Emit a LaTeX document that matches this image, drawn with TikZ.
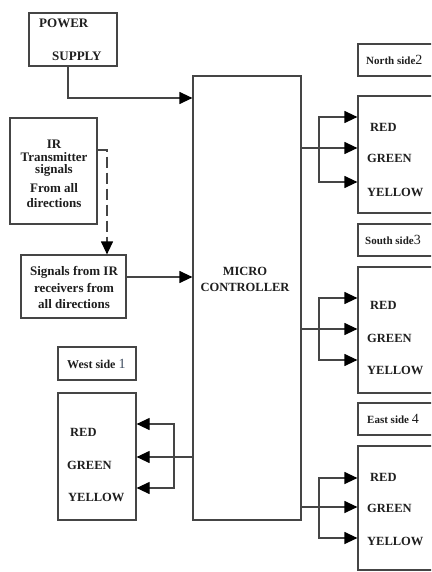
\documentclass[tikz,border=0pt]{standalone}
\usepackage{fontspec}
\setmainfont{Liberation Serif}
\usetikzlibrary{arrows.meta}
\definecolor{ln}{HTML}{454545}
\definecolor{tx}{HTML}{1E1E1E}
\definecolor{one}{HTML}{3C4A5E}
\tikzset{
  blk/.style={draw=ln,line width=1.2pt,fill=white,inner sep=0pt},
  lbl/.style={inner sep=0pt,text=tx,font=\bfseries\fontsize{12.5}{14}\selectfont},
  lblw/.style={lbl,anchor=west},
  sidelbl/.style={inner sep=0pt,anchor=west,text=tx,font=\bfseries\fontsize{11}{12}\selectfont},
  conn/.style={draw=ln,line width=1.2pt},
  arr/.style={conn,-{Triangle[length=13pt,width=12pt,color=black]}},
  darr/.style={arr,dash pattern=on 11pt off 5pt}
}
\newcommand{\dg}[1]{{\mdseries\fontsize{14}{14}\selectfont #1}}
\begin{document}
\begin{tikzpicture}[x=1pt,y=-1pt]
\useasboundingbox (0,0) rectangle (431,572);
\fill[white] (0,0) rectangle (431,572);
\begin{scope}
\clip (0,0) rectangle (431,572);
% boxes
\node[blk,minimum width=88pt,minimum height=53pt] (ps) at (73,39.5) {};
\node[blk,minimum width=87pt,minimum height=106pt] (ir) at (53.5,171) {};
\node[blk,minimum width=105pt,minimum height=63pt] (sig) at (73.5,286.5) {};
\node[blk,minimum width=108pt,minimum height=444pt] (mc) at (247,298) {};
\node[blk,minimum width=78pt,minimum height=33pt] (wl) at (97,363.5) {};
\node[blk,minimum width=78pt,minimum height=127pt] (wb) at (97,456.5) {};
\node[blk,minimum width=90pt,minimum height=32pt] (nl) at (403,60) {};
\node[blk,minimum width=90pt,minimum height=117pt] (nb) at (403,154.5) {};
\node[blk,minimum width=90pt,minimum height=32pt] (sl) at (403,240) {};
\node[blk,minimum width=90pt,minimum height=126pt] (sb) at (403,330) {};
\node[blk,minimum width=90pt,minimum height=32pt] (el) at (403,419) {};
\node[blk,minimum width=90pt,minimum height=124pt] (eb) at (403,508) {};
\end{scope}
% texts
\node[lblw,font=\bfseries\fontsize{13}{14}\selectfont] (t1) at (39,23) {POWER};
\node[lblw,font=\bfseries\fontsize{13}{14}\selectfont] (t2) at (52,56) {SUPPLY};
\begin{scope}[every node/.style={lbl,font=\bfseries\fontsize{13}{14}\selectfont}]
\node (i1) at (54,144) {IR};
\node (i2) at (54,157) {Transmitter};
\node (i3) at (54,170) {signals};
\node (i4) at (54,188) {From all};
\node (i5) at (54,203) {directions};
\node (s1) at (74,272) {Signals from IR};
\node (s2) at (74,288) {receivers from};
\node (s3) at (74,304) {all directions};
\end{scope}
\node[lbl] (m1) at (245,271) {MICRO};
\node[lbl] (m2) at (245,287) {CONTROLLER};
\node[sidelbl,font=\bfseries\fontsize{12}{12}\selectfont] (wt) at (67,364) {West side \textcolor{one}{\dg{1}}};
\node[sidelbl] (nt) at (366,60) {North side\dg{2}};
\node[sidelbl] (st) at (365,240) {South side\dg{3}};
\node[sidelbl] (et) at (367,419) {East side \dg{4}};
% lights
\node[lblw] (wr) at (70,432) {RED};
\node[lblw] (wg) at (67,465) {GREEN};
\node[lblw] (wy) at (68,497) {YELLOW};
\node[lblw] (nr) at (370,127) {RED};
\node[lblw] (ng) at (367,158) {GREEN};
\node[lblw] (ny) at (367,192) {YELLOW};
\node[lblw] (sr) at (370,305) {RED};
\node[lblw] (sg) at (367,338) {GREEN};
\node[lblw] (sy) at (367,370) {YELLOW};
\node[lblw] (er) at (370,477) {RED};
\node[lblw] (eg) at (367,508) {GREEN};
\node[lblw] (ey) at (367,541) {YELLOW};
% connectors
\draw[arr] (ps.south -| 68,0) |- (mc.west |- 0,98);
\draw[darr] (ir.east |- 0,150) -| (sig.north -| 107,0);
\draw[arr] (sig.east |- 0,277) -- (mc.west |- 0,277);
\coordinate (wj) at (174,457);
\draw[arr] (mc.west |- wj) -- (wb.east |- wj);
\draw[arr] (wj) |- (wb.east |- 0,424);
\draw[arr] (wj) |- (wb.east |- 0,488);
\coordinate (nj) at (319,148);
\draw[arr] (mc.east |- nj) -- (nb.west |- nj);
\draw[arr] (nj) |- (nb.west |- 0,117);
\draw[arr] (nj) |- (nb.west |- 0,182);
\coordinate (sj) at (319,329);
\draw[arr] (mc.east |- sj) -- (sb.west |- sj);
\draw[arr] (sj) |- (sb.west |- 0,298);
\draw[arr] (sj) |- (sb.west |- 0,360);
\coordinate (ej) at (319,507);
\draw[arr] (mc.east |- ej) -- (eb.west |- ej);
\draw[arr] (ej) |- (eb.west |- 0,478);
\draw[arr] (ej) |- (eb.west |- 0,538);
\end{tikzpicture}
\end{document}
